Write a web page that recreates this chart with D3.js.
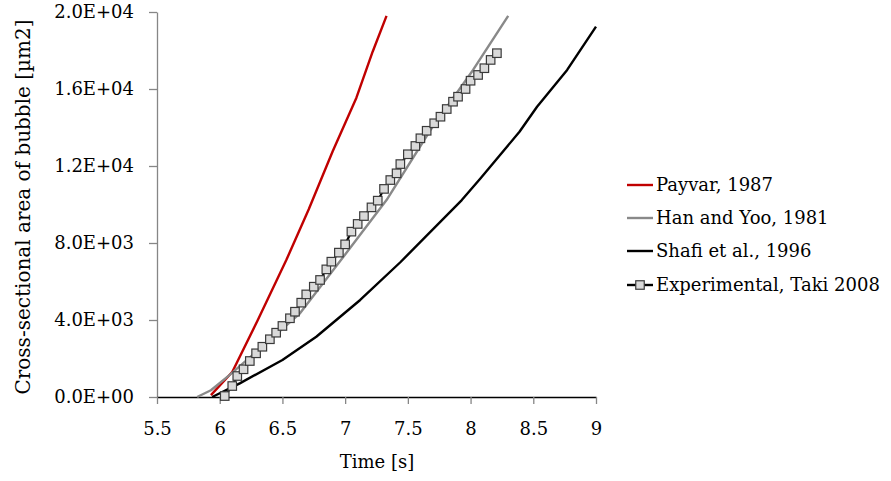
<!DOCTYPE html>
<html>
<head>
<meta charset="utf-8">
<script src="https://cdn.jsdelivr.net/npm/d3@7"></script>
<style>
  body { margin: 0; background: #fff; }
</style>
</head>
<body>
<svg id="chart"></svg>
<script>
// chart size
const width = 891;
const height = 481;
const serif = "'DejaVu Serif', serif";

// x / y ticks
const xTicks = [5.5, 6, 6.5, 7, 7.5, 8, 8.5, 9];
const yTicks = [0, 4000, 8000, 12000, 16000, 20000];

// series: [time s, area um2]
const payvar = [
  [5.93, 100], [6.1, 1300], [6.3, 3950], [6.53, 7100], [6.71, 9750],
  [6.9, 12750], [7.09, 15550], [7.22, 17950], [7.33, 19800]
];
const hanYoo = [
  [5.82, 0], [5.93, 350], [6.08, 1150], [6.3, 2400], [6.64, 4350],
  [7.0, 7400], [7.33, 10230], [7.68, 13870], [8.02, 16990], [8.30, 19800]
];
const shafi = [
  [5.94, 0], [6.16, 710], [6.5, 1920], [6.77, 3130], [7.12, 5040],
  [7.44, 7000], [7.93, 10230], [8.08, 11360], [8.39, 13780], [8.53, 15080],
  [8.77, 16990], [9.0, 19240]
];
const experimental = [
  [6.04, 50], [6.10, 570], [6.14, 1090], [6.19, 1440], [6.24, 1870],
  [6.29, 2270], [6.34, 2610], [6.40, 3000], [6.45, 3340], [6.50, 3690],
  [6.56, 4090], [6.60, 4430], [6.65, 4900], [6.69, 5330], [6.75, 5730],
  [6.80, 6080], [6.85, 6630], [6.89, 7030], [6.95, 7500], [7.00, 7930],
  [7.05, 8590], [7.10, 8990], [7.15, 9400], [7.21, 9850], [7.26, 10200],
  [7.31, 10810], [7.36, 11270], [7.41, 11620], [7.44, 12100], [7.50, 12610],
  [7.56, 13040], [7.60, 13440], [7.65, 13830], [7.71, 14220], [7.76, 14560],
  [7.81, 14960], [7.86, 15340], [7.90, 15600], [7.96, 16000], [8.00, 16430],
  [8.06, 16730], [8.11, 17080], [8.16, 17510], [8.21, 17860]
];

const seriesNames = ["Payvar, 1987", "Han and Yoo, 1981", "Shafi et al., 1996", "Experimental, Taki 2008"];
const seriesColors = ["#c00000", "#898989", "#000000", "#000000"];

const svg = d3.select('#chart')
  .attr("width", width)
  .attr("height", height)
  .style("font-family", serif);

// scales
const xScale = d3.scaleLinear().domain([5.5, 9]).range([157, 596]);
const yScale = d3.scaleLinear().domain([0, 20000]).range([397, 12]);

// y axis
const yAxis = svg.append("g")
  .attr("transform", `translate(${xScale(5.5)},0)`)
  .call(d3.axisLeft(yScale)
    .tickValues(yTicks)
    .tickSize(8)
    .tickSizeOuter(0)
    .tickPadding(15)
    .tickFormat(d => d3.format(".1e")(d).replace("e", "E").replace(/E([+-])(\d)$/, "E$10$2")));
yAxis.attr("font-family", null);
yAxis.select(".domain").attr("stroke", "#868686").attr("stroke-width", 1.3);
yAxis.selectAll(".tick line").attr("stroke", "#868686").attr("stroke-width", 1.3);
yAxis.selectAll("text")
  .style("font-family", serif)
  .style("font-size", "18px")
  .attr("fill", "#000");

// x axis
const xAxis = svg.append("g")
  .attr("transform", `translate(0,${yScale(0)})`)
  .call(d3.axisBottom(xScale)
    .tickValues(xTicks)
    .tickSize(7)
    .tickSizeOuter(0)
    .tickPadding(18)
    .tickFormat(d3.format("")));
xAxis.attr("font-family", null);
xAxis.select(".domain").attr("stroke", "#000").attr("stroke-width", 1.3);
xAxis.selectAll(".tick line").attr("stroke", "#868686").attr("stroke-width", 1.3);
xAxis.selectAll("text")
  .style("font-family", serif)
  .style("font-size", "18px")
  .attr("fill", "#000");

// axis titles
svg.append("text")
  .attr("x", 377)
  .attr("y", 468)
  .attr("text-anchor", "middle")
  .style("font-family", serif)
  .style("font-size", "18px")
  .text("Time [s]");

svg.append("text")
  .attr("transform", `translate(30,207) rotate(-90)`)
  .attr("text-anchor", "middle")
  .style("font-family", serif)
  .style("font-size", "20px")
  .text("Cross-sectional area of bubble [µm2]");

// lines
const line = d3.line()
  .x(d => xScale(d[0]))
  .y(d => yScale(d[1]));

const lineData = [payvar, hanYoo, shafi];
lineData.forEach((data, i) => {
  svg.append("path")
    .datum(data)
    .attr("fill", "none")
    .attr("stroke", seriesColors[i])
    .attr("stroke-width", 2.4)
    .attr("stroke-linejoin", "round")
    .attr("d", line);
});

// experimental series: black line under square markers
svg.append("path")
  .datum(experimental)
  .attr("fill", "none")
  .attr("stroke", "#000")
  .attr("stroke-width", 2.2)
  .attr("d", line);

const mk = 8.5;
svg.selectAll(".marker")
  .data(experimental)
  .enter()
  .append("rect")
  .attr("class", "marker")
  .attr("x", d => xScale(d[0]) - mk / 2)
  .attr("y", d => yScale(d[1]) - mk / 2)
  .attr("width", mk)
  .attr("height", mk)
  .attr("fill", "#d9d9d9")
  .attr("stroke", "#3a3a3a")
  .attr("stroke-width", 1.2);

// legend
const legendY = [185, 218, 251, 285];
const legend = svg.append("g");
seriesNames.forEach((name, i) => {
  const y = legendY[i];
  legend.append("line")
    .attr("x1", 627).attr("x2", 653)
    .attr("y1", y).attr("y2", y)
    .attr("stroke", seriesColors[i])
    .attr("stroke-width", 2.4);
  if (i === 3) {
    legend.append("rect")
      .attr("x", 640 - mk / 2).attr("y", y - mk / 2)
      .attr("width", mk).attr("height", mk)
      .attr("fill", "#d9d9d9")
      .attr("stroke", "#3a3a3a")
      .attr("stroke-width", 1.2);
  }
  legend.append("text")
    .attr("x", 656)
    .attr("y", y)
    .attr("dy", "0.35em")
    .style("font-family", serif)
    .style("font-size", "18px")
    .text(name);
});
</script>
</body>
</html>
